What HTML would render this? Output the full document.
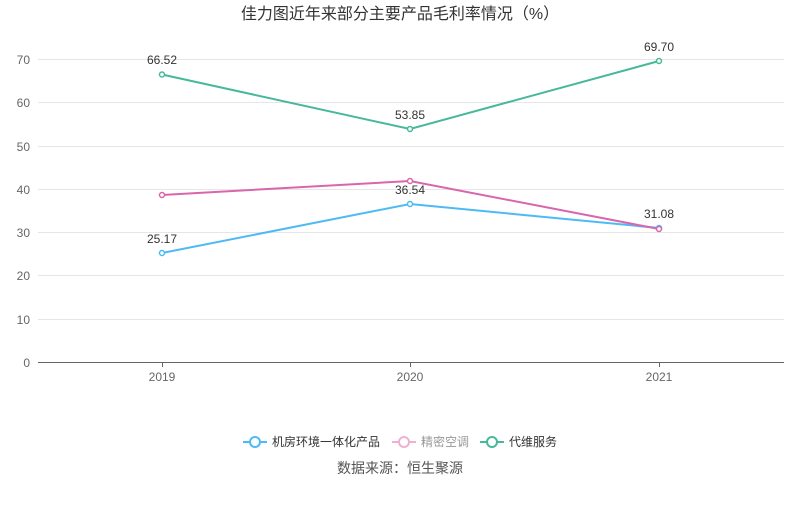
<!DOCTYPE html>
<html><head><meta charset="utf-8"><style>
body{margin:0;background:#fff;}
svg text{font-family:"Liberation Sans","Noto Sans CJK SC",sans-serif;}
</style></head><body>
<svg width="800" height="501" xmlns="http://www.w3.org/2000/svg">
<rect width="800" height="501" fill="#fff"/>
<text x="400" y="19" text-anchor="middle" font-size="16" fill="#333">佳力图近年来部分主要产品毛利率情况（%）</text>
<g stroke="#e6e6e6" stroke-width="1">
<line x1="38" x2="784" y1="59.5" y2="59.5"/>
<line x1="38" x2="784" y1="102.5" y2="102.5"/>
<line x1="38" x2="784" y1="146.5" y2="146.5"/>
<line x1="38" x2="784" y1="189.5" y2="189.5"/>
<line x1="38" x2="784" y1="232.5" y2="232.5"/>
<line x1="38" x2="784" y1="275.5" y2="275.5"/>
<line x1="38" x2="784" y1="319.5" y2="319.5"/>
</g>
<line x1="38" x2="784" y1="362.5" y2="362.5" stroke="#666"/>
<g stroke="#666"><line x1="162.5" x2="162.5" y1="362" y2="367"/><line x1="410.5" x2="410.5" y1="362" y2="367"/><line x1="659.5" x2="659.5" y1="362" y2="367"/></g>
<g font-size="12" fill="#666" text-anchor="end">
<text x="30" y="64">70</text><text x="30" y="107">60</text><text x="30" y="151">50</text><text x="30" y="194">40</text><text x="30" y="237">30</text><text x="30" y="280">20</text><text x="30" y="324">10</text><text x="30" y="367">0</text>
</g>
<g font-size="12" fill="#666" text-anchor="middle">
<text x="162" y="381">2019</text><text x="410" y="381">2020</text><text x="659" y="381">2021</text>
</g>
<g fill="#fff" stroke-width="2">
<polyline points="162,253 410,204 659,228" fill="none" stroke="#4ebaf5"/>
<polyline points="162,195 410,181 659,229" fill="none" stroke="#d966ac"/>
<polyline points="162,74.5 410,129 659,61" fill="none" stroke="#47b89a"/>
<g stroke="#4ebaf5" stroke-width="1.5"><circle cx="162" cy="253" r="2.5"/><circle cx="410" cy="204" r="2.5"/><circle cx="659" cy="228" r="2.5"/></g>
<g stroke="#d966ac" stroke-width="1.5"><circle cx="162" cy="195" r="2.5"/><circle cx="410" cy="181" r="2.5"/><circle cx="659" cy="229" r="2.5"/></g>
<g stroke="#47b89a" stroke-width="1.5"><circle cx="162" cy="74.5" r="2.5"/><circle cx="410" cy="129" r="2.5"/><circle cx="659" cy="61" r="2.5"/></g>
</g>
<g font-size="12" fill="#333" text-anchor="middle">
<text x="162" y="243">25.17</text><text x="410" y="194">36.54</text><text x="659" y="218">31.08</text>
<text x="162" y="64">66.52</text><text x="410" y="119">53.85</text><text x="659" y="51">69.70</text>
</g>
<g stroke-width="2" fill="#fff">
<line x1="243" x2="267" y1="442" y2="442" stroke="#4ebaf5"/><circle cx="255" cy="442" r="5" stroke="#4ebaf5"/>
<line x1="392" x2="416" y1="442" y2="442" stroke="#f0b0d4"/><circle cx="404" cy="442" r="5" stroke="#f0b0d4"/>
<line x1="480" x2="504" y1="442" y2="442" stroke="#47b89a"/><circle cx="492" cy="442" r="5" stroke="#47b89a"/>
</g>
<g font-size="12">
<text x="272" y="446" fill="#333">机房环境一体化产品</text>
<text x="421" y="446" fill="#999">精密空调</text>
<text x="509" y="446" fill="#333">代维服务</text>
</g>
<text x="400" y="473" text-anchor="middle" font-size="14" fill="#555">数据来源：恒生聚源</text>
</svg>
</body></html>
